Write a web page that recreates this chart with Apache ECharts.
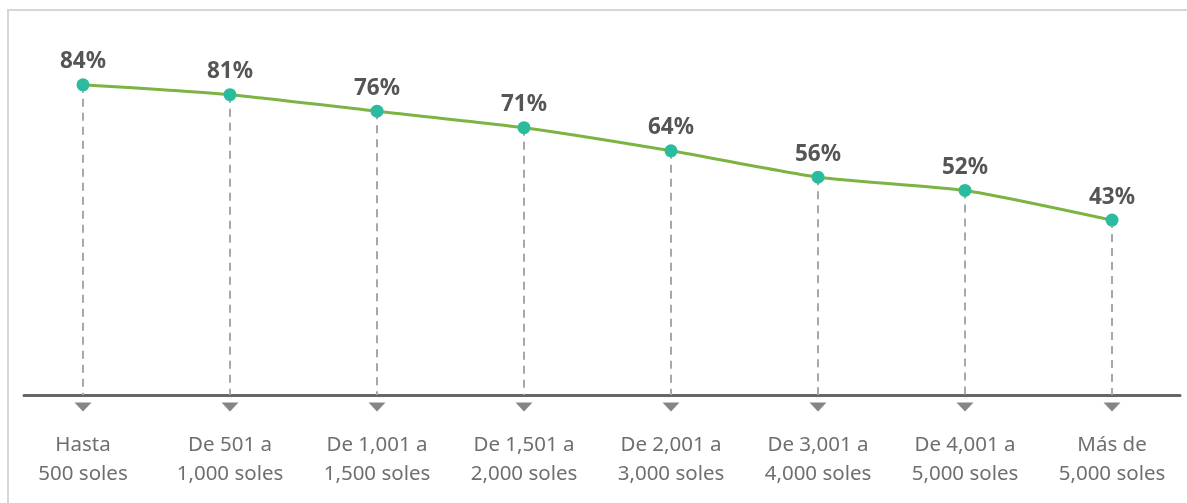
<!DOCTYPE html>
<html>
<head>
<meta charset="utf-8">
<script src="https://cdn.jsdelivr.net/npm/echarts@6/dist/echarts.min.js"></script>
<style>
  html, body { margin: 0; padding: 0; background: #ffffff; }
  #wrap { position: relative; width: 1187px; height: 503px; overflow: hidden; }
  #frame { position: absolute; left: 7px; top: 9px; right: -5px; bottom: -5px;
           border-left: 2px solid #d6d6d6; border-top: 2px solid #d6d6d6; }
  #chart { position: absolute; left: 0; top: 0; width: 1187px; height: 503px; }
</style>
</head>
<body>
<div id="wrap">
  <div id="frame"></div>
  <div id="chart"></div>
</div>
<script>
const categories = [
  'Hasta\n500 soles',
  'De 501 a\n1,000 soles',
  'De 1,001 a\n1,500 soles',
  'De 1,501 a\n2,000 soles',
  'De 2,001 a\n3,000 soles',
  'De 3,001 a\n4,000 soles',
  'De 4,001 a\n5,000 soles',
  'Más de\n5,000 soles'
];
const values = [84, 81, 76, 71, 64, 56, 52, 43];
const yMin = -10;
const yMax = 100;
const markerLevel = -13.6;

const chart = echarts.init(document.getElementById('chart'), null, { renderer: 'canvas' });

const dropLines = categories.map((c, i) => [
  { coord: [c, values[i]] },
  { coord: [c, yMin] }
]);

const option = {
  backgroundColor: 'transparent',
  animation: false,
  textStyle: { fontFamily: 'Noto Sans' },
  grid: [
    { left: 83, right: 75, top: 32, bottom: 108 },
    { left: 24, right: 7, top: 32, bottom: 108 }
  ],
  xAxis: [
    {
      type: 'category', gridIndex: 0, data: categories, boundaryGap: false,
      axisLine: { show: false }, axisTick: { show: false }, splitLine: { show: false },
      axisLabel: {
        margin: 36, color: '#6f6f6f', fontSize: 20.5, lineHeight: 29,
        fontFamily: 'Noto Sans', align: 'center', interval: 0
      }
    },
    {
      type: 'value', gridIndex: 1, min: 0, max: 1,
      axisLine: { show: true, onZero: false, lineStyle: { color: '#666666', width: 3 } },
      axisTick: { show: false }, axisLabel: { show: false }, splitLine: { show: false }
    }
  ],
  yAxis: [
    { type: 'value', gridIndex: 0, min: yMin, max: yMax, show: false, splitLine: { show: false } },
    { type: 'value', gridIndex: 1, min: 0, max: 1, show: false, splitLine: { show: false } }
  ],
  series: [
    {
      type: 'line', xAxisIndex: 0, yAxisIndex: 0,
      data: values,
      smooth: 0.2,
      symbol: 'circle', symbolSize: 13,
      lineStyle: { color: '#7cb342', width: 3 },
      itemStyle: { color: '#2bbb9f' },
      z: 3,
      label: {
        show: true, position: 'top', distance: 5,
        formatter: p => p.value + '%',
        color: '#555555', fontSize: 22.5, fontWeight: 'bold', fontFamily: 'Noto Sans'
      },
      markLine: {
        silent: true, symbol: ['none', 'none'], animation: false,
        label: { show: false },
        lineStyle: { color: '#a8a8a8', width: 2, type: [8, 6] },
        emphasis: { disabled: true },
        data: dropLines,
        z: 1
      }
    },
    {
      type: 'scatter', xAxisIndex: 0, yAxisIndex: 0,
      data: categories.map(() => markerLevel),
      clip: false,
      symbol: 'triangle', symbolRotate: 180, symbolSize: [17, 9],
      itemStyle: { color: '#666666' },
      silent: true
    }
  ]
};
chart.setOption(option);
</script>
</body>
</html>
